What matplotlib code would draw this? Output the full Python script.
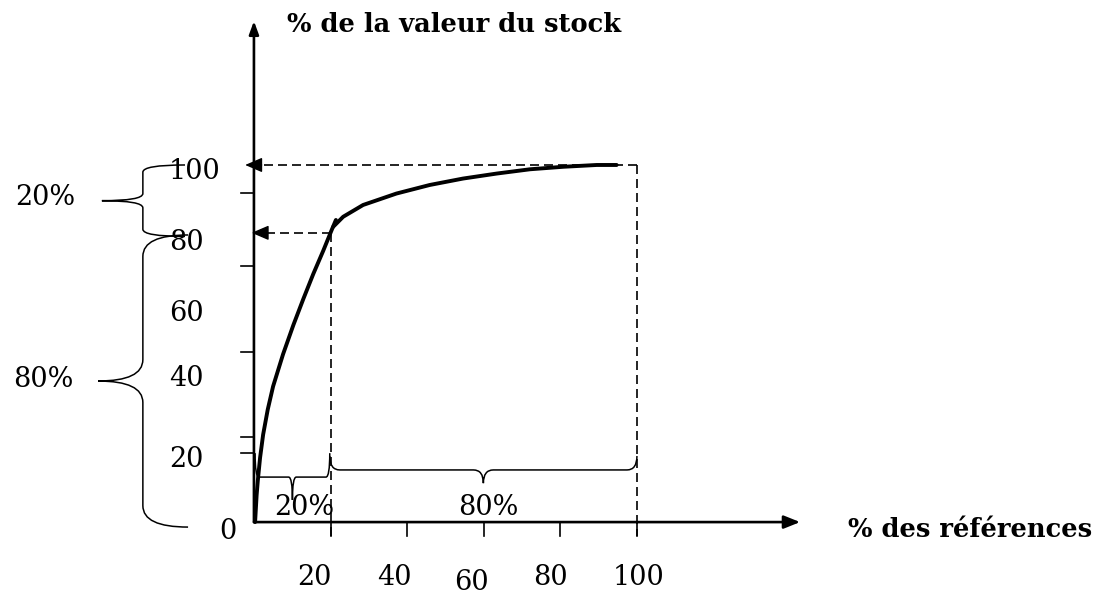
import matplotlib.pyplot as plt
from matplotlib.path import Path
from matplotlib.patches import PathPatch

# curve: % of items (x) -> cumulative % of stock value (y)
class_a_x = [0.3, 0.7, 1.0, 1.6, 2.4, 3.6, 5.0, 7.6, 10.3, 12.9, 15.5, 18.1, 20.3, 21.4]
class_a_y = [0, 7.5, 11.5, 18.0, 24.5, 31.5, 38.0, 47.0, 55.2, 62.5, 69.5, 76.0, 81.8, 84.6]
rest_x = [20.7, 23.3, 28.5, 37.2, 45.9, 54.6, 63.4, 72.1, 80.8, 89.5, 94.7]
rest_y = [82.7, 85.5, 88.8, 92.0, 94.4, 96.2, 97.6, 98.8, 99.5, 100.0, 100.0]

x_ticks = [20, 40, 60, 80, 100]
x_labels = ["20", "40", "60", "80", "100"]
y_ticks = [19.3, 23.8, 47.6, 71.7, 92.2]  # hand-drawn marks on the y axis
y_values = [20, 40, 60, 80, 100]
y_labels = ["20", "40", "60", "80", "100"]

cut_x, cut_y = 20, 81      # 20 % of items -> ~80 % of value
end_x, end_y = 100, 100

# layout (data units)
X_LIM = (-66.3, 222.2)
Y_LIM = (-20.7, 146.2)
x_label_nudge = [-4.1, -3.4, -3.1, -2.5, 0.3]
x_label_drop = [-15.4, -15.4, -16.9, -15.4, -15.4]
y_label_nudge = [-2.6, 0.3, -1.7, -1.8, -1.7]

SERIF = "DejaVu Serif"
FS = 19.5


def brace(ax, a, b, n_end, n_spine, n_tip, r, vertical, lw=1.1):
    """Curly brace between a and b along one axis, pointing to n_tip."""
    m = (a + b) / 2
    pts = [(a, n_end), (a, n_spine), (a + r, n_spine),
           (m - r, n_spine), (m, n_spine), (m, n_tip),
           (m, n_spine), (m + r, n_spine),
           (b - r, n_spine), (b, n_spine), (b, n_end)]
    codes = [Path.MOVETO, Path.CURVE3, Path.CURVE3,
             Path.LINETO, Path.CURVE3, Path.CURVE3,
             Path.CURVE3, Path.CURVE3,
             Path.LINETO, Path.CURVE3, Path.CURVE3]
    if vertical:
        pts = [(n, s) for s, n in pts]
    ax.add_patch(PathPatch(Path(pts, codes), fill=False, lw=lw,
                           color="black", clip_on=False))


def arrow(ax, tip, tail, lw, scale=15, hl=0.7, hw=0.3):
    ax.annotate("", xy=tip, xytext=tail,
                arrowprops=dict(arrowstyle=f"-|>,head_length={hl},head_width={hw}",
                                mutation_scale=scale, lw=lw, color="black",
                                shrinkA=0, shrinkB=0))


fig = plt.figure(figsize=(11.05, 5.96), dpi=100)
ax = fig.add_axes([0, 0, 1, 1])
ax.set_xlim(*X_LIM)
ax.set_ylim(*Y_LIM)
ax.axis("off")

# axes with arrows
arrow(ax, (0, 140.3), (0, 0), lw=1.9, scale=13, hl=0.6, hw=0.22)
arrow(ax, (142.6, 0), (0, 0), lw=1.9, scale=13, hl=0.75, hw=0.3)

# ticks
for t in x_ticks:
    ax.plot([t, t], [0, -3.9], color="black", lw=1.2)
for t in y_ticks:
    ax.plot([-3.4, 0], [t, t], color="black", lw=1.2)

# dashed guides
dash = dict(color="black", lw=1.2, dashes=(5.4, 3.0))
ax.plot([end_x, 0], [end_y, end_y], **dash)
ax.plot([end_x, end_x], [end_y, -3.9], **dash)
ax.plot([cut_x, 0], [cut_y, cut_y], **dash)
ax.plot([cut_x, cut_x], [cut_y, -3.9], **dash)
arrow(ax, (-2.3, end_y), (2.0, end_y), lw=1.0)
arrow(ax, (-0.6, cut_y), (3.6, cut_y), lw=1.0)

# Pareto curve
ax.plot(class_a_x, class_a_y, color="black", lw=2.8, solid_capstyle="round",
        solid_joinstyle="round")
ax.plot(rest_x, rest_y, color="black", lw=2.8, solid_capstyle="round",
        solid_joinstyle="round")

# tick labels
for t, lab, dx, dy in zip(x_ticks, x_labels, x_label_nudge, x_label_drop):
    ax.text(t + dx, dy, lab, ha="center", va="center", fontsize=FS, family=SERIF)
for v, lab, dy in zip(y_values, y_labels, y_label_nudge):
    ax.text(-22.2, v + dy, lab, ha="left", va="center", fontsize=FS, family=SERIF)
ax.text(-6.8, -2.5, "0", ha="center", va="center", fontsize=FS, family=SERIF)

# axis titles
ax.text(8.6, 139.2, "% de la valeur du stock", ha="left", va="center",
        fontsize=18.5, fontweight="bold", family=SERIF)
ax.text(155.1, -2.2, "% des références", ha="left", va="center",
        fontsize=18.5, fontweight="bold", family=SERIF)

# braces
brace(ax, 80, 100, -18, -29, -39.7, 2, vertical=True)
brace(ax, -1.4, 80.4, -17.2, -29, -40.7, 6, vertical=True)
brace(ax, 0.3, 19.8, 19.3, 12.6, 6.2, 1, vertical=False)
brace(ax, 19.8, 100, 18.5, 14.6, 10.9, 2.6, vertical=False)

ax.text(-54.6, 90.8, "20%", ha="center", va="center", fontsize=FS, family=SERIF)
ax.text(-55.1, 39.8, "80%", ha="center", va="center", fontsize=FS, family=SERIF)
ax.text(13.1, 4.2, "20%", ha="center", va="center", fontsize=FS, family=SERIF)
ax.text(61.1, 4.2, "80%", ha="center", va="center", fontsize=FS, family=SERIF)

fig.savefig("out.png", dpi=100)
